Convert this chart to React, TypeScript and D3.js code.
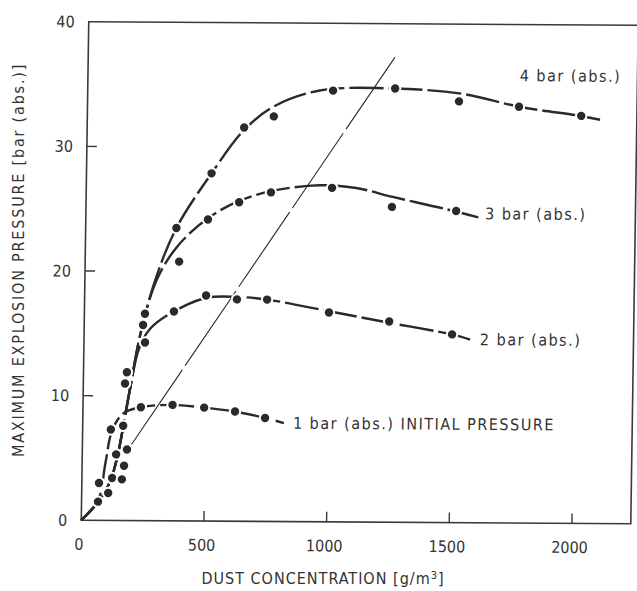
import React from 'react'
import * as d3 from 'd3'

// Dust concentration [g/m3] against maximum explosion pressure [bar abs.]
const xTickValues = [500, 1000, 1500, 2000]
const xTickLabels = [0, 500, 1000, 1500, 2000]
const yTickValues = [10, 20, 30]
const yTickLabels = [0, 10, 20, 30, 40]

// measured points, [concentration, pressure]
const points1bar = [[67, 1.5], [108, 2.2], [115, 7.3], [236, 9.1], [365, 9.3], [494, 9.1], [620, 8.8], [743, 8.3]]
const points2bar = [[70, 3.0], [123, 3.4], [163, 3.3], [249, 14.3], [365, 16.8], [495, 18.1], [621, 17.8], [744, 17.8], [997, 16.8], [1243, 16.1], [1500, 15.1]]
const points3bar = [[138, 5.3], [171, 4.4], [165, 7.6], [170, 11.0], [240, 15.7], [383, 20.8], [498, 24.2], [624, 25.6], [753, 26.4], [1002, 26.8], [1247, 25.3], [1509, 25.0]]
const points4bar = [[182, 5.7], [177, 11.9], [247, 16.6], [370, 23.5], [510, 27.9], [640, 31.6], [760, 32.5], [1000, 34.6], [1253, 34.8], [1514, 33.8], [1759, 33.4], [2013, 32.7]]

// fitted curves as drawn in the figure
const curve1bar = [[0, 0], [67, 1.6], [95, 4.6], [120, 7.2], [165, 8.6], [236, 9.1], [365, 9.3], [494, 9.1], [620, 8.8], [743, 8.3], [820, 7.9]]
const curve2bar = [[0, 0], [80, 1.8], [120, 3.4], [146, 5.4], [190, 10.5], [225, 13.8], [269, 15.4], [365, 16.8], [495, 17.9], [621, 18.0], [744, 17.8], [997, 16.9], [1243, 16.0], [1500, 15.1], [1574, 14.7]]
const curve3bar = [[0, 0], [80, 1.8], [120, 3.4], [146, 5.4], [190, 10.5], [230, 15], [290, 19.2], [374, 22.0], [498, 24.3], [624, 25.7], [753, 26.5], [950, 27.0], [1100, 26.8], [1250, 26.1], [1456, 25.2], [1600, 24.5]]
const curve4bar = [[0, 0], [80, 1.8], [120, 3.4], [146, 5.4], [190, 10.5], [230, 15], [290, 19.5], [370, 23.5], [510, 27.9], [640, 31.4], [760, 33.3], [946, 34.6], [1250, 34.8], [1530, 34.4], [1760, 33.4], [2010, 32.7], [2090, 32.4]]

// optimum-concentration line
const optimumLine = [[200, 6.1], [1250, 37.3]]

const seriesLabels = ['1 bar (abs.) INITIAL PRESSURE', '2 bar (abs.)', '3 bar (abs.)', '4 bar (abs.)']
const labelAnchors = [[857, 7.9], [1614, 14.7], [1627, 24.8], [1760, 35.9]]

const series = [
  { points: points1bar, curve: curve1bar },
  { points: points2bar, curve: curve2bar },
  { points: points3bar, curve: curve3bar },
  { points: points4bar, curve: curve4bar },
]

const W = 549.5
const H = 498.5
const ink = '#2a2a2a'
const font = '"DejaVu Sans Condensed", "Liberation Sans Narrow", "DejaVu Sans", sans-serif'

export default function App() {
  const x = d3.scaleLinear().domain([0, 2240]).range([0, W])
  const y = d3.scaleLinear().domain([0, 40]).range([H, 0])

  const line = d3.line<number[]>()
    .x(d => x(d[0]))
    .y(d => y(d[1]))
    .curve(d3.curveCatmullRom.alpha(0.5))

  const straight = d3.line<number[]>().x(d => x(d[0])).y(d => y(d[1]))

  // the scan is slightly skewed, so the plot box is too
  const skew = 'matrix(1, 0.0064, -0.015, 1, 88.75, 21.75)'

  return (
    <svg width={637} height={591} style={{ position: 'absolute', left: 0, top: 0, background: '#fff' }}
      fontFamily={font} fontStretch="condensed">
      <g transform={skew}>
        <rect x={0} y={0} width={W} height={H} fill="none" stroke="#3a3a3a" strokeWidth={1.6} />
        {xTickValues.map(t => (
          <line key={'xt' + t} x1={x(t)} x2={x(t)} y1={H} y2={H - 10} stroke="#3a3a3a" strokeWidth={1.4} />
        ))}
        {yTickValues.map(t => (
          <line key={'yt' + t} x1={0} x2={10} y1={y(t)} y2={y(t)} stroke="#3a3a3a" strokeWidth={1.4} />
        ))}
        {xTickLabels.map(t => (
          <text key={'xl' + t} x={x(t) - 2} y={H + 24} dy="0.35em" textAnchor="middle" fontSize={16} fill="#333">{t}</text>
        ))}
        {yTickLabels.map(t => (
          <text key={'yl' + t} x={-14} y={y(t)} dy="0.35em" textAnchor="end" fontSize={16} fill="#333">{t}</text>
        ))}

        <path d={straight(optimumLine) || ''} fill="none" stroke={ink} strokeWidth={1.1} strokeDasharray="90 5" />

        {series.map((s, i) => (
          <path key={'c' + i} d={line(s.curve) || ''} fill="none" stroke={ink} strokeWidth={2.4} strokeDasharray="34 5" />
        ))}
        {series.map((s, i) => (
          <g key={'p' + i}>
            {s.points.map((p, j) => (
              <circle key={j} cx={x(p[0])} cy={y(p[1])} r={5.2} fill={ink} stroke="#fff" strokeWidth={2} />
            ))}
          </g>
        ))}
        {seriesLabels.map((lab, i) => (
          <text key={'sl' + i} x={x(labelAnchors[i][0])} y={y(labelAnchors[i][1])} dy="0.35em" fontSize={16} letterSpacing={1.5} fill="#333">{lab}</text>
        ))}
      </g>

      <text x={323} y={578} dy="0.35em" textAnchor="middle" fontSize={16} letterSpacing={1} fill="#333">
        DUST CONCENTRATION [g/m<tspan dy="-5" fontSize={11}>3</tspan><tspan dy="5">]</tspan>
      </text>
      <text transform="translate(18, 260) rotate(-90)" dy="0.35em" textAnchor="middle" fontSize={16} letterSpacing={1.8} fill="#333">
        MAXIMUM EXPLOSION PRESSURE [bar (abs.)]
      </text>
    </svg>
  )
}
